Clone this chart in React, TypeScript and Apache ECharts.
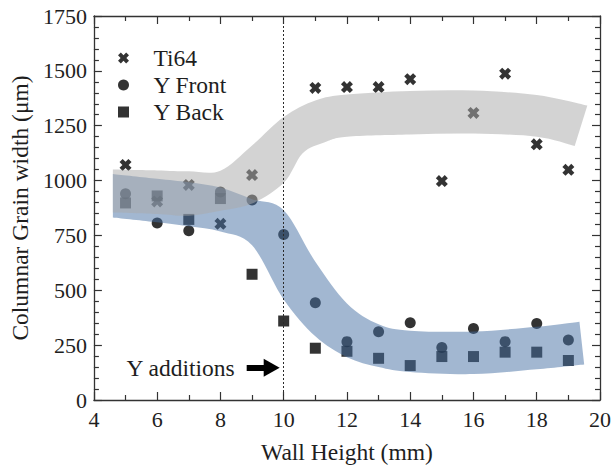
import React, { useEffect, useRef } from "react";
import * as echarts from "echarts";

// ---- data ----
const ti64X = [5, 6, 7, 8, 9, 11, 12, 13, 14, 15, 16, 17, 18, 19];
const ti64Y = [1071, 905, 980, 803, 1025, 1422, 1426, 1426, 1462, 998, 1308, 1487, 1165, 1049];

const frontX = [5, 6, 7, 8, 9, 10, 11, 12, 13, 14, 15, 16, 17, 18, 19];
const frontY = [940, 807, 771, 948, 911, 754, 443, 266, 311, 352, 239, 326, 266, 349, 273];

const backX = [5, 6, 7, 8, 9, 10, 11, 12, 13, 14, 15, 16, 17, 18, 19];
const backY = [898, 930, 823, 918, 573, 360, 236, 222, 190, 157, 198, 198, 218, 218, 180];

// band outlines (hand-drawn guides in the reference)
const grayUpX = [4.6, 6, 7, 8, 9, 10, 11, 12, 14, 16, 18, 19.6];
const grayUpY = [1050, 1046, 1042, 1045, 1160, 1290, 1365, 1392, 1408, 1410, 1390, 1342];
const grayLoX = [4.6, 6, 7, 8, 9, 10, 10.6, 11.3, 12, 14, 16, 18, 19.2];
const grayLoY = [855, 848, 840, 862, 895, 990, 1125, 1175, 1200, 1210, 1214, 1200, 1158];

const blueUpX = [4.6, 6, 7, 8, 9, 10, 11, 12, 13, 14, 16, 18, 19.35];
const blueUpY = [1030, 1008, 992, 968, 915, 865, 630, 440, 345, 316, 312, 334, 357];
const blueLoX = [4.6, 6, 7, 8, 9, 10, 11, 12, 13, 14, 16, 18, 19.5];
const blueLoY = [832, 810, 792, 768, 705, 458, 290, 195, 150, 128, 118, 140, 162];

const xTicks = { min: 4, max: 20, interval: 2 };
const yTicks = { min: 0, max: 1750, interval: 250 };

const markerLine = 10;
const arrowFrom = [8.83, 147];
const arrowTo = [9.62, 147];

const FONT = "'Liberation Serif', 'Times New Roman', Times, serif";
const INK = "#1e1e1e";

const XSYM = "path://M0,2.6 L2.6,0 L5,2.4 L7.4,0 L10,2.6 L7.6,5 L10,7.4 L7.4,10 L5,7.6 L2.6,10 L0,7.4 L2.4,5 Z";
const SQSYM = "path://M0,0 L10,0 L10,10 L0,10 Z";

function spline(p: number[][]): string {
  let s = "";
  for (let i = 0; i < p.length - 1; i++) {
    const p0 = p[Math.max(i - 1, 0)];
    const p1 = p[i];
    const p2 = p[i + 1];
    const p3 = p[Math.min(i + 2, p.length - 1)];
    const c1 = [p1[0] + (p2[0] - p0[0]) / 6, p1[1] + (p2[1] - p0[1]) / 6];
    const c2 = [p2[0] - (p3[0] - p1[0]) / 6, p2[1] - (p3[1] - p1[1]) / 6];
    s += `C${c1[0]},${c1[1]} ${c2[0]},${c2[1]} ${p2[0]},${p2[1]}`;
  }
  return s;
}

function bandItem(api: any, ux: number[], uy: number[], lx: number[], ly: number[], fill: string) {
  const up = ux.map((x, i) => api.coord([x, uy[i]]));
  const lo = lx.map((x, i) => api.coord([x, ly[i]])).reverse();
  const d =
    "M" + up[0][0] + "," + up[0][1] + spline(up) + "L" + lo[0][0] + "," + lo[0][1] + spline(lo) + "Z";
  return { type: "path", shape: { pathData: d }, style: { fill } };
}

function zip(xs: number[], ys: number[]) {
  return xs.map((x, i) => [x, ys[i]]);
}

export default function App() {
  const ref = useRef<HTMLDivElement>(null);
  useEffect(() => {
    if (!ref.current) return;
    const chart = echarts.init(ref.current, undefined, { renderer: "svg" });
    const axisLine = { show: true, onZero: false, lineStyle: { color: "#333333", width: 1.3 } };
    const tick = { show: true, inside: true, length: 8, lineStyle: { color: "#333333", width: 1.2 } };
    const tickText = { fontFamily: FONT, fontSize: 22, color: INK };
    const bigText = { fontFamily: FONT, fontSize: 23.5, color: INK };
    const xBase = {
      type: "value",
      min: xTicks.min,
      max: xTicks.max,
      interval: xTicks.interval,
      axisLine,
      axisTick: tick,
      minorTick: { show: true, splitNumber: 2, length: 5, lineStyle: { color: "#333333", width: 1.2 } },
      splitLine: { show: false },
    };
    const yBase = {
      type: "value",
      min: yTicks.min,
      max: yTicks.max,
      interval: yTicks.interval,
      axisLine,
      axisTick: tick,
      minorTick: { show: true, splitNumber: 5, length: 5, lineStyle: { color: "#333333", width: 1.2 } },
      splitLine: { show: false },
    };
    chart.setOption({
      animation: false,
      backgroundColor: "#ffffff",
      textStyle: { fontFamily: FONT },
      grid: { left: 90, right: 14, top: 16, bottom: 66.5, containLabel: false },
      legend: {
        data: ["Ti64", "Y Front", "Y Back"],
        orient: "vertical",
        left: 118,
        top: 46,
        padding: 0,
        itemGap: 3,
        itemWidth: 50,
        itemHeight: 11,
        selectedMode: false,
        textStyle: { ...bigText },
      },
      xAxis: [
        {
          ...xBase,
          position: "bottom",
          name: "Wall Height (mm)",
          nameLocation: "middle",
          nameGap: 40,
          nameTextStyle: { ...bigText },
          axisLabel: { ...tickText, margin: 8 },
        },
        { ...xBase, position: "top", axisLabel: { show: false } },
      ],
      yAxis: [
        {
          ...yBase,
          position: "left",
          name: "Columnar Grain width (μm)",
          nameLocation: "middle",
          nameGap: 56,
          nameTextStyle: { ...bigText },
          axisLabel: { ...tickText, margin: 7, formatter: (v: number) => String(v) },
        },
        { ...yBase, position: "right", axisLabel: { show: false } },
      ],
      series: [
        {
          name: "Ti64",
          type: "scatter",
          symbol: XSYM,
          symbolSize: 12,
          itemStyle: { color: "#000000" },
          data: zip(ti64X, ti64Y),
          z: 2,
          markLine: {
            silent: true,
            symbol: ["none", "none"],
            label: { show: false },
            lineStyle: { color: "#2a2a2a", width: 1, type: [2, 2] },
            data: [{ xAxis: markerLine }],
          },
        },
        {
          name: "Y Front",
          type: "scatter",
          symbol: "circle",
          symbolSize: 11,
          itemStyle: { color: "#000000" },
          data: zip(frontX, frontY),
          z: 2,
        },
        {
          name: "Y Back",
          type: "scatter",
          symbol: SQSYM,
          symbolSize: 11,
          itemStyle: { color: "#000000" },
          data: zip(backX, backY),
          z: 2,
          markLine: {
            silent: true,
            symbol: ["none", "triangle"],
            symbolSize: [18, 16],
            lineStyle: { color: "#000000", width: 6, type: "solid" },
            label: {
              show: true,
              position: "start",
              distance: 12,
              formatter: "Y additions",
              ...bigText,
            },
            data: [[{ coord: arrowFrom }, { coord: arrowTo }]],
          },
        },
        {
          name: "blueBand",
          type: "custom",
          silent: true,
          z: 3,
          data: [[10, 500]],
          renderItem: (_p: any, api: any) =>
            bandItem(api, blueUpX, blueUpY, blueLoX, blueLoY, "rgba(70,112,163,0.5)"),
        },
        {
          name: "grayBand",
          type: "custom",
          silent: true,
          z: 4,
          data: [[10, 1200]],
          renderItem: (_p: any, api: any) =>
            bandItem(api, grayUpX, grayUpY, grayLoX, grayLoY, "rgba(170,170,170,0.52)"),
        },
      ],
    });
    return () => chart.dispose();
  }, []);
  return (
    <div
      ref={ref}
      style={{ position: "fixed", left: 0, top: 0, width: 614, height: 469, background: "#fff" }}
    />
  );
}
